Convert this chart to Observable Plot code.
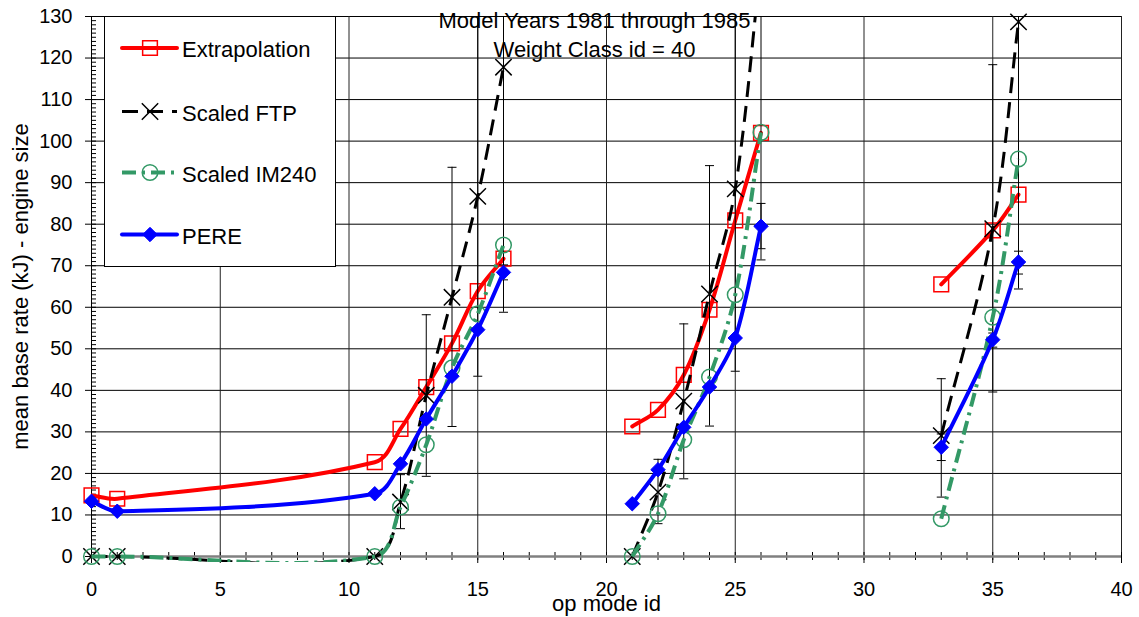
<!DOCTYPE html>
<html><head><meta charset="utf-8">
<script src="https://cdn.jsdelivr.net/npm/d3@7"></script>
<script src="https://cdn.jsdelivr.net/npm/@observablehq/plot@0.6"></script>
<style>
html,body{margin:0;padding:0;background:#fff;}
#chart{width:1139px;height:617px;}
</style></head><body><div id="chart"></div>
<script>
// ---- text ----
const titleLines = ["Model Years 1981 through 1985", "Weight Class id = 40"];
const xLabel = "op mode id";
const yLabel = "mean base rate (kJ) - engine size";
const seriesNames = ["Extrapolation", "Scaled FTP", "Scaled IM240", "PERE"];

// ---- data ----
const opModes  = [0, 1, 11, 12, 13, 14, 15, 16, 21, 22, 23, 24, 25, 26, 33, 35, 36];
const opGroups = [1, 1, 1, 1, 1, 1, 1, 1, 2, 2, 2, 2, 2, 2, 3, 3, 3];
const extrapolation = [14.7, 13.9, 22.7, 30.7, 40.8, 51.3, 63.9, 71.7, 31.3, 35.3, 43.7, 59.4, 80.9, 102.0, 65.5, 78.5, 87.1];
const scaledFTP     = [0, 0, 0, 13.1, 38.8, 62.4, 86.7, 117.8, 0, 15.5, 37.4, 63.2, 88.5, 143.0, 29.1, 78.9, 128.7];
const scaledIM240   = [0, 0, 0, 11.9, 26.9, 45.4, 58.4, 75.0, 0, 10.3, 28.1, 43.2, 63.0, 102.1, 9.1, 57.6, 95.7];
const pere          = [13.3, 10.9, 15.1, 22.3, 33.1, 43.4, 54.6, 68.4, 12.7, 20.9, 31.1, 40.8, 52.6, 79.5, 26.3, 52.2, 70.9];
const ftpLow   = [null, null, null, 6.7, 19.3, 31.3, 43.4, 58.8, null, 7.9, 18.7, 31.4, 44.6, 71.4, 14.3, 39.6, 64.4];
const ftpHigh  = [null, null, null, 19.7, 58.2, 93.7, 130.0, 176.8, null, 23.4, 56.0, 94.1, 132.4, 214.6, 42.8, 118.4, 193.0];
const pereLow  = [null, null, null, null, null, null, null, 66.6, null, null, null, null, null, 74.1, 23.1, 50.4, 68.0];
const pereHigh = [null, null, null, null, null, null, null, 70.2, null, null, null, null, null, 85.0, 29.5, 53.8, 73.5];

// ---- ticks ----
const xMajorTicks = [0, 5, 10, 15, 20, 25, 30, 35, 40];
const xMinorTicks = d3.range(0, 41, 1);
const yMajorTicks = [0, 10, 20, 30, 40, 50, 60, 70, 80, 90, 100, 110, 120, 130];
const yMinorTicks = d3.range(0, 131, 1);

// ---- styles ----
const styles = {
  "Extrapolation": {color: "#ff0000", width: 4, dash: null, symbol: "square", r: 8.3, fill: "none", sw: 1.5},
  "Scaled FTP":    {color: "#000000", width: 3, dash: "16,9", symbol: "times", r: 7.5, fill: "none", sw: 1.5},
  "Scaled IM240":  {color: "#339966", width: 4, dash: "14,6,3,6", symbol: "circle", r: 7.8, fill: "none", sw: 1.5},
  "PERE":          {color: "#0000ff", width: 4, dash: null, symbol: "diamond2", r: 6.5, fill: "#0000ff", sw: 1}
};
const seriesValues = {"Extrapolation": extrapolation, "Scaled FTP": scaledFTP, "Scaled IM240": scaledIM240, "PERE": pere};
const seriesErrors = {"Scaled FTP": [ftpLow, ftpHigh], "PERE": [pereLow, pereHigh]};

const capSymbol = {draw(ctx, size) { const w = Math.sqrt(size / Math.PI); ctx.moveTo(-w, 0); ctx.lineTo(w, 0); }};

// spreadsheet-style smoothed line: tangent along neighbours, handle length = segment length / 3
function smoothCurve(context) {
  let pts = [];
  const unit = (a, b) => { const dx = b[0] - a[0], dy = b[1] - a[1], l = Math.hypot(dx, dy) || 1; return [dx / l, dy / l]; };
  return {
    areaStart() {}, areaEnd() {},
    lineStart() { pts = []; },
    point(x, y) { pts.push([+x, +y]); },
    lineEnd() {
      const n = pts.length;
      if (!n) return;
      context.moveTo(pts[0][0], pts[0][1]);
      for (let i = 0; i < n - 1; i++) {
        const p0 = pts[Math.max(i - 1, 0)], p1 = pts[i], p2 = pts[i + 1], p3 = pts[Math.min(i + 2, n - 1)];
        const d = Math.hypot(p2[0] - p1[0], p2[1] - p1[1]) / 3;
        const t1 = unit(p0, p2), t2 = unit(p1, p3);
        context.bezierCurveTo(p1[0] + t1[0] * d, p1[1] + t1[1] * d, p2[0] - t2[0] * d, p2[1] - t2[1] * d, p2[0], p2[1]);
      }
    }
  };
}

const marks = [
  Plot.gridY(yMajorTicks, {stroke: "#000", strokeOpacity: 1, strokeWidth: 1}),
  Plot.gridX(xMajorTicks, {stroke: "#222", strokeOpacity: 1, strokeWidth: 1}),
  Plot.axisY(yMajorTicks, {tickSize: 6, tickPadding: 13, fontSize: 20, label: null}),
  Plot.axisY(yMinorTicks, {tickSize: 5, dx: 5, fill: "none", label: null}),
  Plot.ruleX([0], {stroke: "#000", strokeWidth: 1}),
  Plot.axisX(xMinorTicks, {tickSize: 8, dy: -4, fill: "none", label: null}),
  Plot.axisX(xMajorTicks, {tickSize: 7, tickPadding: 18, fontSize: 20, label: null}),
  Plot.ruleY([0], {stroke: "#808080", strokeWidth: 2.5})
];

for (const name of seriesNames) {
  const s = styles[name];
  const vals = seriesValues[name];
  const rows = opModes.map((x, i) => ({x, y: vals[i], g: opGroups[i]}));
  if (seriesErrors[name]) {
    const [lo, hi] = seriesErrors[name];
    const err = opModes.map((x, i) => ({x, lo: lo[i], hi: hi[i]})).filter(d => d.lo != null);
    marks.push(Plot.ruleX(err, {x: "x", y1: "lo", y2: "hi", stroke: "#000", strokeWidth: 1, clip: true}));
    const caps = err.flatMap(d => [{x: d.x, y: d.lo}, {x: d.x, y: d.hi}]).filter(d => d.y < 130);
    marks.push(Plot.dot(caps, {x: "x", y: "y", symbol: capSymbol, r: 4.5, stroke: "#000", fill: "none", strokeWidth: 1}));
  }
  marks.push(Plot.line(rows, {x: "x", y: "y", z: "g", curve: smoothCurve, stroke: s.color, strokeWidth: s.width,
    strokeDasharray: s.dash, strokeLinecap: s.dash ? "butt" : "round", strokeLinejoin: "round", clip: true}));
  marks.push(Plot.dot(rows.filter(d => d.y <= 130), {x: "x", y: "y", symbol: s.symbol, r: s.r,
    stroke: s.color, fill: s.fill, strokeWidth: s.sw}));
}

marks.push(
  Plot.text([titleLines.join("\n")], {text: d => d, frameAnchor: "top", textAnchor: "middle", dx: -12, dy: -9, lineAnchor: "top", fontSize: 22, lineHeight: 1.32, fill: "#000"}),
  Plot.text([xLabel], {text: d => d, frameAnchor: "bottom", textAnchor: "middle", dy: 47, lineAnchor: "middle", fontSize: 22, fill: "#000"}),
  Plot.text([yLabel], {text: d => d, frameAnchor: "left", textAnchor: "middle", dx: -71, rotate: -90, lineAnchor: "middle", fontSize: 22, fill: "#000"})
);

const chart = Plot.plot({
  width: 1139, height: 617,
  marginLeft: 91, marginRight: 18, marginTop: 16, marginBottom: 61,
  x: {domain: [0, 40]},
  y: {domain: [0, 130]},
  style: {fontFamily: '"Liberation Sans", Arial, sans-serif', fontSize: "20px", color: "#000", background: "#fff", overflow: "visible"},
  marks
});

// let the smoothed lines dip a few pixels below the x axis, as the spreadsheet does (top edge unchanged)
d3.select(chart).selectAll("clipPath rect").each(function () {
  const r = d3.select(this);
  r.attr("height", +r.attr("height") + 6);
});

// ---- legend (inside the plot area, top-left) ----
const svg = d3.select(chart);
const lg = svg.append("g").attr("class", "legend").style("font-family", '"Liberation Sans", Arial, sans-serif');
lg.append("rect").attr("x", 104.5).attr("y", 16.5).attr("width", 231).attr("height", 250)
  .attr("fill", "#fff").attr("stroke", "#000").attr("stroke-width", 1);
const legendY = [48, 111.5, 172.5, 234.5];
const symMap = {square: d3.symbolSquare, times: d3.symbolTimes, circle: d3.symbolCircle, diamond2: d3.symbolDiamond2};
seriesNames.forEach((name, i) => {
  const s = styles[name];
  const y = legendY[i];
  lg.append("line").attr("x1", 122).attr("x2", 177).attr("y1", y).attr("y2", y)
    .attr("stroke", s.color).attr("stroke-width", s.width)
    .attr("stroke-dasharray", s.dash).attr("stroke-linecap", s.dash ? "butt" : "round");
  lg.append("path").attr("d", d3.symbol(symMap[s.symbol], Math.PI * s.r * s.r)())
    .attr("transform", `translate(150,${y})`)
    .attr("fill", s.fill).attr("stroke", s.color).attr("stroke-width", s.sw);
  lg.append("text").attr("x", 182).attr("y", y + 9).attr("font-size", 22).attr("fill", "#000")
    .attr("text-anchor", "start").style("text-anchor", "start").text(name);
});

document.getElementById("chart").appendChild(chart);
</script>
</body></html>
